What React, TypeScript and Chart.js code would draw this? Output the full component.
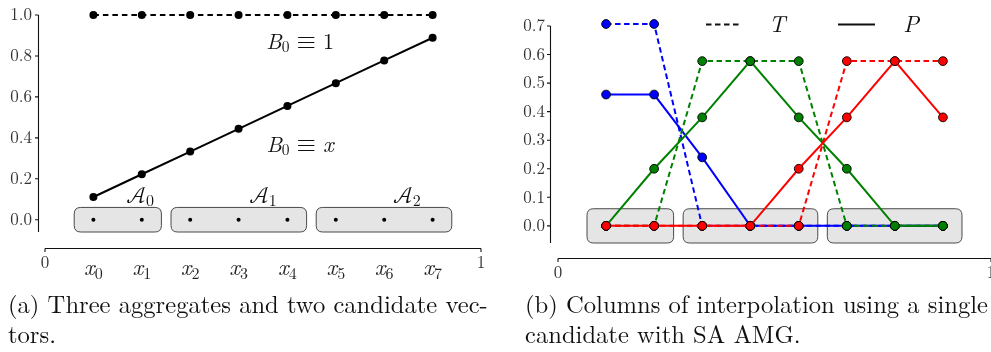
import React, { useEffect, useRef } from 'react';
import { Chart, registerables } from 'chart.js';

Chart.register(...registerables);

const SERIF = '"Latin Modern Roman", "Liberation Serif", serif';
const MATH = '"Latin Modern Math", "Latin Modern Roman", "Liberation Serif", serif';

// ---------- panel (a) data ----------
const nodeX = [0.111, 0.222, 0.333, 0.444, 0.556, 0.667, 0.778, 0.889];
const nodeSub = ['0', '1', '2', '3', '4', '5', '6', '7'];
const constantCandidate = [1, 1, 1, 1, 1, 1, 1, 1];
const linearCandidate = [0.111, 0.222, 0.333, 0.444, 0.556, 0.667, 0.778, 0.889];
const aggregateLevel = [0, 0, 0, 0, 0, 0, 0, 0];
const aggregateStart = [0.067, 0.289, 0.622];
const aggregateEnd = [0.267, 0.6, 0.933];
const aggregateSub = ['0', '1', '2'];
const aggregateLabelX = [0.218, 0.5, 0.83];
const aggregateLabelY = 0.08;
const aggregateHalfHeight = 0.06;
const aYTicks = [0, 0.2, 0.4, 0.6, 0.8, 1.0];
const aYRange = [-0.06, 1.0];
const xAxisTicks = [0, 1];

// ---------- panel (b) data ----------
const blueT = [0.707, 0.707, 0, 0, 0, 0, 0, 0];
const blueP = [0.46, 0.46, 0.24, 0, 0, 0, 0, 0];
const greenT = [0, 0, 0.577, 0.577, 0.577, 0, 0, 0];
const greenP = [0, 0.2, 0.38, 0.577, 0.38, 0.2, 0, 0];
const redT = [0, 0, 0, 0, 0, 0.577, 0.577, 0.577];
const redP = [0, 0, 0, 0, 0.2, 0.38, 0.577, 0.38];
const bYTicks = [0, 0.1, 0.2, 0.3, 0.4, 0.5, 0.6, 0.7];
const bYRange = [-0.06, 0.7];
const legendNames = ['T', 'P'];

const toPts = (ys: number[]) => ys.map((y, i) => ({ x: nodeX[i], y }));

type Part = { t?: string; size?: number; italic?: boolean; dy?: number; gap?: number; fam?: string };

function font(size: number, italic?: boolean, fam?: string) {
  return `${italic ? 'italic ' : ''}${size}px ${fam || SERIF}`;
}

function drawRich(ctx: CanvasRenderingContext2D, parts: Part[], cx: number, baseY: number, color = '#111') {
  ctx.save();
  ctx.fillStyle = color;
  ctx.textBaseline = 'alphabetic';
  ctx.textAlign = 'left';
  let total = 0;
  const widths = parts.map((p) => {
    if (p.gap !== undefined) {
      total += p.gap;
      return p.gap;
    }
    ctx.font = font(p.size || 16, p.italic, p.fam);
    const w = ctx.measureText(p.t || '').width;
    total += w;
    return w;
  });
  let x = cx - total / 2;
  parts.forEach((p, i) => {
    if (p.gap === undefined) {
      ctx.font = font(p.size || 16, p.italic, p.fam);
      ctx.fillText(p.t || '', x, baseY + (p.dy || 0));
    }
    x += widths[i];
  });
  ctx.restore();
}

function roundRect(ctx: CanvasRenderingContext2D, x: number, y: number, w: number, h: number, r: number) {
  ctx.beginPath();
  ctx.moveTo(x + r, y);
  ctx.lineTo(x + w - r, y);
  ctx.quadraticCurveTo(x + w, y, x + w, y + r);
  ctx.lineTo(x + w, y + h - r);
  ctx.quadraticCurveTo(x + w, y + h, x + w - r, y + h);
  ctx.lineTo(x + r, y + h);
  ctx.quadraticCurveTo(x, y + h, x, y + h - r);
  ctx.lineTo(x, y + r);
  ctx.quadraticCurveTo(x, y, x + r, y);
  ctx.closePath();
}

function drawBoxes(chart: any) {
  const { ctx } = chart;
  const xs = chart.scales.x;
  const ys = chart.scales.y;
  ctx.save();
  aggregateStart.forEach((s, i) => {
    const x0 = xs.getPixelForValue(s);
    const x1 = xs.getPixelForValue(aggregateEnd[i]);
    const y0 = ys.getPixelForValue(aggregateHalfHeight);
    const y1 = ys.getPixelForValue(-aggregateHalfHeight);
    roundRect(ctx, x0, y0, x1 - x0, y1 - y0, 6.5);
    ctx.fillStyle = '#e5e5e5';
    ctx.fill();
    ctx.lineWidth = 1;
    ctx.strokeStyle = '#4a4a4a';
    ctx.stroke();
  });
  ctx.restore();
}

function drawSpines(chart: any, yRange: number[], yTicks: number[], yOff: number, xOff: number) {
  const { ctx } = chart;
  const xs = chart.scales.x;
  const ys = chart.scales.y;
  const area = chart.chartArea;
  ctx.save();
  ctx.strokeStyle = '#111';
  ctx.lineWidth = 1.1;
  const sx = Math.round(area.left - yOff) + 0.5;
  ctx.beginPath();
  ctx.moveTo(sx, ys.getPixelForValue(yRange[0]));
  ctx.lineTo(sx, ys.getPixelForValue(yRange[1]));
  yTicks.forEach((v) => {
    const py = ys.getPixelForValue(v);
    ctx.moveTo(sx, py);
    ctx.lineTo(sx - 3.5, py);
  });
  ctx.stroke();
  const sy = Math.round(area.bottom + xOff) + 0.5;
  ctx.beginPath();
  ctx.moveTo(xs.getPixelForValue(xAxisTicks[0]), sy);
  ctx.lineTo(xs.getPixelForValue(xAxisTicks[xAxisTicks.length - 1]), sy);
  xAxisTicks.forEach((v) => {
    const px = xs.getPixelForValue(v);
    ctx.moveTo(px, sy);
    ctx.lineTo(px, sy + 3.5);
  });
  ctx.stroke();
  ctx.restore();
}

const panelAPlugin = {
  id: 'panelA',
  beforeDatasetsDraw(chart: any) {
    drawBoxes(chart);
  },
  afterDatasetsDraw(chart: any) {
    const { ctx } = chart;
    const xs = chart.scales.x;
    const ys = chart.scales.y;
    aggregateSub.forEach((s, i) => {
      drawRich(
        ctx,
        [
          { t: '\u{1D49C}', size: 23, fam: MATH },
          { t: s, size: 16, dy: 3 },
        ],
        xs.getPixelForValue(aggregateLabelX[i]),
        ys.getPixelForValue(aggregateLabelY)
      );
    });
    const bx = xs.getPixelForValue(0.585);
    drawRich(
      ctx,
      [
        { t: 'B', size: 22, italic: true },
        { t: '0', size: 15.5, dy: 3 },
        { gap: 7 },
        { t: '\u2261', size: 25, fam: MATH },
        { gap: 7 },
        { t: '1', size: 22 },
      ],
      bx,
      ys.getPixelForValue(0.835)
    );
    drawRich(
      ctx,
      [
        { t: 'B', size: 22, italic: true },
        { t: '0', size: 15.5, dy: 3 },
        { gap: 7 },
        { t: '\u2261', size: 25, fam: MATH },
        { gap: 7 },
        { t: 'x', size: 23, italic: true },
      ],
      bx,
      ys.getPixelForValue(0.33)
    );
  },
  afterDraw(chart: any) {
    drawSpines(chart, aYRange, aYTicks, 7, 16);
    const { ctx } = chart;
    const xs = chart.scales.x;
    const base = chart.chartArea.bottom + 43;
    nodeSub.forEach((s, i) => {
      drawRich(
        ctx,
        [
          { t: 'x', size: 23, italic: true },
          { t: s, size: 16, dy: 4 },
        ],
        xs.getPixelForValue(nodeX[i]),
        base,
        '#222'
      );
    });
  },
};

const panelBPlugin = {
  id: 'panelB',
  beforeDatasetsDraw(chart: any) {
    drawBoxes(chart);
  },
  afterDraw(chart: any) {
    drawSpines(chart, bYRange, bYTicks, 8, 15);
    const { ctx } = chart;
    const L = chart.chartArea.left;
    const ly = 24.5;
    ctx.save();
    ctx.strokeStyle = '#111';
    ctx.lineWidth = 2;
    ctx.setLineDash([5.5, 3.5]);
    ctx.beginPath();
    ctx.moveTo(L + 148, ly);
    ctx.lineTo(L + 182, ly);
    ctx.stroke();
    ctx.setLineDash([]);
    ctx.beginPath();
    ctx.moveTo(L + 280, ly);
    ctx.lineTo(L + 317, ly);
    ctx.stroke();
    ctx.restore();
    drawRich(ctx, [{ t: legendNames[0], size: 23, italic: true }], L + 219, 32);
    drawRich(ctx, [{ t: legendNames[1], size: 23, italic: true }], L + 353, 32);
  },
};

function axisTickFont() {
  return { family: SERIF, size: 17 };
}

function makeScales(yRange: number[], yTicks: number[], yWidth: number, xHeight: number, xGap: number) {
  return {
    x: {
      type: 'linear',
      min: 0,
      max: 1,
      grid: { display: false, drawTicks: true, tickLength: xGap },
      border: { display: false },
      afterBuildTicks: (s: any) => {
        s.ticks = xAxisTicks.map((v) => ({ value: v }));
      },
      afterFit: (s: any) => {
        s.height = xHeight;
      },
      ticks: {
        padding: 0,
        color: '#333',
        font: axisTickFont(),
        autoSkip: false,
        maxRotation: 0,
        callback: (v: any) => String(v),
      },
    },
    y: {
      type: 'linear',
      min: yRange[0],
      max: yRange[1],
      grid: { display: false, drawTicks: true, tickLength: 13 },
      border: { display: false },
      afterBuildTicks: (s: any) => {
        s.ticks = yTicks.map((v) => ({ value: v }));
      },
      afterFit: (s: any) => {
        s.width = yWidth;
      },
      ticks: {
        padding: 0,
        color: '#333',
        font: axisTickFont(),
        autoSkip: false,
        callback: (v: any) => Number(v).toFixed(1),
      },
    },
  };
}

function lineDs(data: number[], color: string, dashed: boolean, order: number) {
  return {
    data: toPts(data),
    borderColor: color,
    backgroundColor: color,
    borderWidth: 2,
    borderDash: dashed ? [5.5, 3.5] : [],
    pointRadius: 4.4,
    pointBackgroundColor: color,
    pointBorderColor: '#000',
    pointBorderWidth: 0.9,
    tension: 0,
    clip: false,
    order,
  };
}

export default function App() {
  const refA = useRef<HTMLCanvasElement>(null);
  const refB = useRef<HTMLCanvasElement>(null);

  useEffect(() => {
    const chartA = new Chart(refA.current as HTMLCanvasElement, {
      type: 'line',
      data: {
        datasets: [
          {
            data: toPts(constantCandidate),
            borderColor: '#000',
            backgroundColor: '#000',
            borderWidth: 2,
            borderDash: [5.5, 4],
            pointRadius: 4,
            pointBorderWidth: 0,
            clip: false,
          } as any,
          {
            data: toPts(linearCandidate),
            borderColor: '#000',
            backgroundColor: '#000',
            borderWidth: 2,
            pointRadius: 4,
            pointBorderWidth: 0,
            clip: false,
          },
          {
            data: toPts(aggregateLevel),
            showLine: false,
            borderColor: '#000',
            backgroundColor: '#000',
            pointRadius: 2,
            pointBorderWidth: 0,
            clip: false,
          },
        ],
      },
      options: {
        responsive: false,
        animation: false,
        events: [],
        layout: { padding: { top: 15, right: 14, left: 0, bottom: 0 } },
        plugins: { legend: { display: false }, tooltip: { enabled: false } },
        scales: makeScales(aYRange, aYTicks, 45, 58, 21) as any,
      },
      plugins: [panelAPlugin],
    });

    const chartB = new Chart(refB.current as HTMLCanvasElement, {
      type: 'line',
      data: {
        datasets: [
          lineDs(blueT, '#0000ff', true, 6),
          lineDs(blueP, '#0000ff', false, 5),
          lineDs(greenT, '#008000', true, 4),
          lineDs(greenP, '#008000', false, 3),
          lineDs(redT, '#ff0000', true, 2),
          lineDs(redP, '#ff0000', false, 1),
        ] as any,
      },
      options: {
        responsive: false,
        animation: false,
        events: [],
        layout: { padding: { top: 26, right: 19, left: 0, bottom: 0 } },
        plugins: { legend: { display: false }, tooltip: { enabled: false } },
        scales: makeScales(bYRange, bYTicks, 68, 47, 20) as any,
      },
      plugins: [panelBPlugin],
    });

    return () => {
      chartA.destroy();
      chartB.destroy();
    };
  }, []);

  const lineStyle = (left: number, top: number): React.CSSProperties => ({
    position: 'absolute',
    left,
    top,
    fontFamily: SERIF,
    fontSize: 24.6,
    lineHeight: '24px',
    whiteSpace: 'nowrap',
    color: '#111',
  });

  return (
    <div
      style={{
        position: 'absolute',
        left: 0,
        top: 0,
        width: 991,
        height: 352,
        overflow: 'hidden',
        background: '#fff',
      }}
    >
      <canvas
        ref={refA}
        width={495}
        height={290}
        style={{ position: 'absolute', left: 0, top: 0, width: 495, height: 290 }}
      />
      <canvas
        ref={refB}
        width={520}
        height={290}
        style={{ position: 'absolute', left: 490, top: 0, width: 520, height: 290 }}
      />
      <div style={lineStyle(8, 291)}>(a) Three aggregates and two candidate vec-</div>
      <div style={lineStyle(8, 321)}>tors.</div>
      <div style={lineStyle(525, 291)}>(b) Columns of interpolation using a single</div>
      <div style={lineStyle(525, 321)}>candidate with SA AMG.</div>
    </div>
  );
}
